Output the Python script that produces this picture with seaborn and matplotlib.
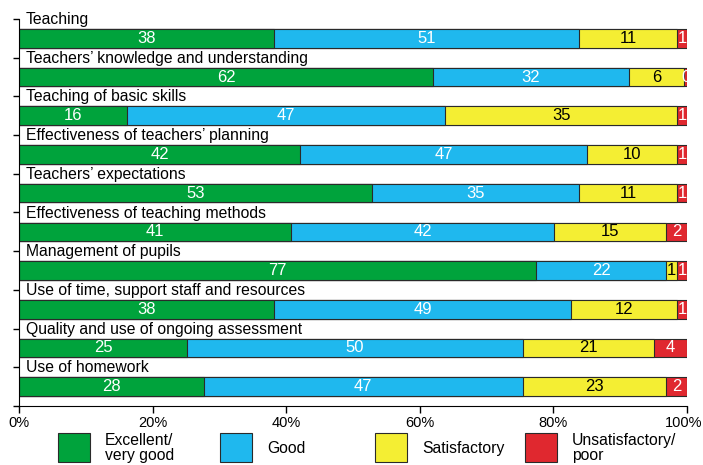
import pandas as pd
import seaborn as sns
import matplotlib.pyplot as plt
import matplotlib.transforms as mtransforms
from matplotlib.patches import Rectangle

aspects = ['Teaching',
           'Teachers’ knowledge and understanding',
           'Teaching of basic skills',
           'Effectiveness of teachers’ planning',
           'Teachers’ expectations',
           'Effectiveness of teaching methods',
           'Management of pupils',
           'Use of time, support staff and resources',
           'Quality and use of ongoing assessment',
           'Use of homework']

# segment lengths as drawn (percent of lessons)
excellent = [38.1, 62.0, 16.2, 42.1, 52.8, 40.7, 77.4, 38.2, 25.2, 27.7]
good = [45.7, 29.3, 47.6, 42.9, 31.0, 39.4, 19.5, 44.4, 50.2, 47.7]
satisfactory = [14.7, 8.3, 34.7, 13.5, 14.7, 16.8, 1.6, 15.9, 19.7, 21.5]
unsatisfactory = [1.5, 0.4, 1.5, 1.5, 1.5, 3.1, 1.5, 1.5, 4.9, 3.1]

# printed (rounded) labels
excellent_lbl = [38, 62, 16, 42, 53, 41, 77, 38, 25, 28]
good_lbl = [51, 32, 47, 47, 35, 42, 22, 49, 50, 47]
satisfactory_lbl = [11, 6, 35, 10, 11, 15, 1, 12, 21, 23]
unsatisfactory_lbl = [1, 0, 1, 1, 1, 2, 1, 1, 4, 2]

grades = ['Excellent/\nvery good', 'Good', 'Satisfactory', 'Unsatisfactory/\npoor']
colors = ['#00A33C', '#1FB8EE', '#F4EE33', '#E0282F']
text_colors = ['white', 'white', 'black', 'white']

df = pd.DataFrame({'aspect': aspects, 'g0': excellent, 'g1': good,
                   'g2': satisfactory, 'g3': unsatisfactory})
df['c0'] = df['g0']
df['c1'] = df['c0'] + df['g1']
df['c2'] = df['c1'] + df['g2']
df['c3'] = df['c2'] + df['g3']
labels = [excellent_lbl, good_lbl, satisfactory_lbl, unsatisfactory_lbl]

plt.rcParams['font.family'] = ['Liberation Sans', 'DejaVu Sans']
fig = plt.figure(figsize=(7.03, 4.65), dpi=100)
ax = fig.add_axes([19 / 703, 1 - 406 / 465, 668 / 703, 387 / 465])

# stacked bars: draw cumulative totals from the longest down
for k in [3, 2, 1, 0]:
    sns.barplot(data=df, x='c%d' % k, y='aspect', orient='h', color=colors[k],
                saturation=1, width=0.48, edgecolor='#2a2a2a', linewidth=0.8, ax=ax)

for k in range(4):
    for i in range(len(aspects)):
        center = df['c%d' % k][i] - df['g%d' % k][i] / 2
        ax.text(center, i, str(labels[k][i]), ha='center', va='center',
                color=text_colors[k], fontsize=12, clip_on=True)

for i, name in enumerate(aspects):
    ax.text(1.0, i - 0.37, name, ha='left', va='baseline', fontsize=11.3,
            clip_on=False)

ax.set_xlim(0, 100)
ax.set_ylim(9.5, -0.5)
ax.set_xticks([0, 20, 40, 60, 80, 100])
ax.set_xticklabels(['0%', '20%', '40%', '60%', '80%', '100%'], fontsize=10.5)
ax.set_yticks([i - 0.5 for i in range(len(aspects) + 1)])
ax.set_yticklabels([])
ax.tick_params(axis='x', length=5, width=1, pad=2)
ax.tick_params(axis='y', length=4, width=1)
ax.set_xlabel('')
ax.set_ylabel('')
for s in ['top', 'right']:
    ax.spines[s].set_visible(False)

# keep the "100%" label inside the figure
last = ax.get_xticklabels()[-1]
last.set_horizontalalignment('right')
last.set_transform(last.get_transform() + mtransforms.ScaledTranslation(0.15, 0, fig.dpi_scale_trans))

# legend row under the axis
leg_x = [58, 220, 375, 525]
for k in range(4):
    fig.patches.append(Rectangle((leg_x[k] / 703, 1 - 462 / 465), 32 / 703, 29 / 465,
                                 facecolor=colors[k], edgecolor='#2a2a2a', linewidth=0.8,
                                 transform=fig.transFigure))
    fig.text((leg_x[k] + 47) / 703, 1 - 448 / 465, grades[k], ha='left', va='center',
             fontsize=11.3, linespacing=1.0)

plt.savefig('out.png', dpi=100)
